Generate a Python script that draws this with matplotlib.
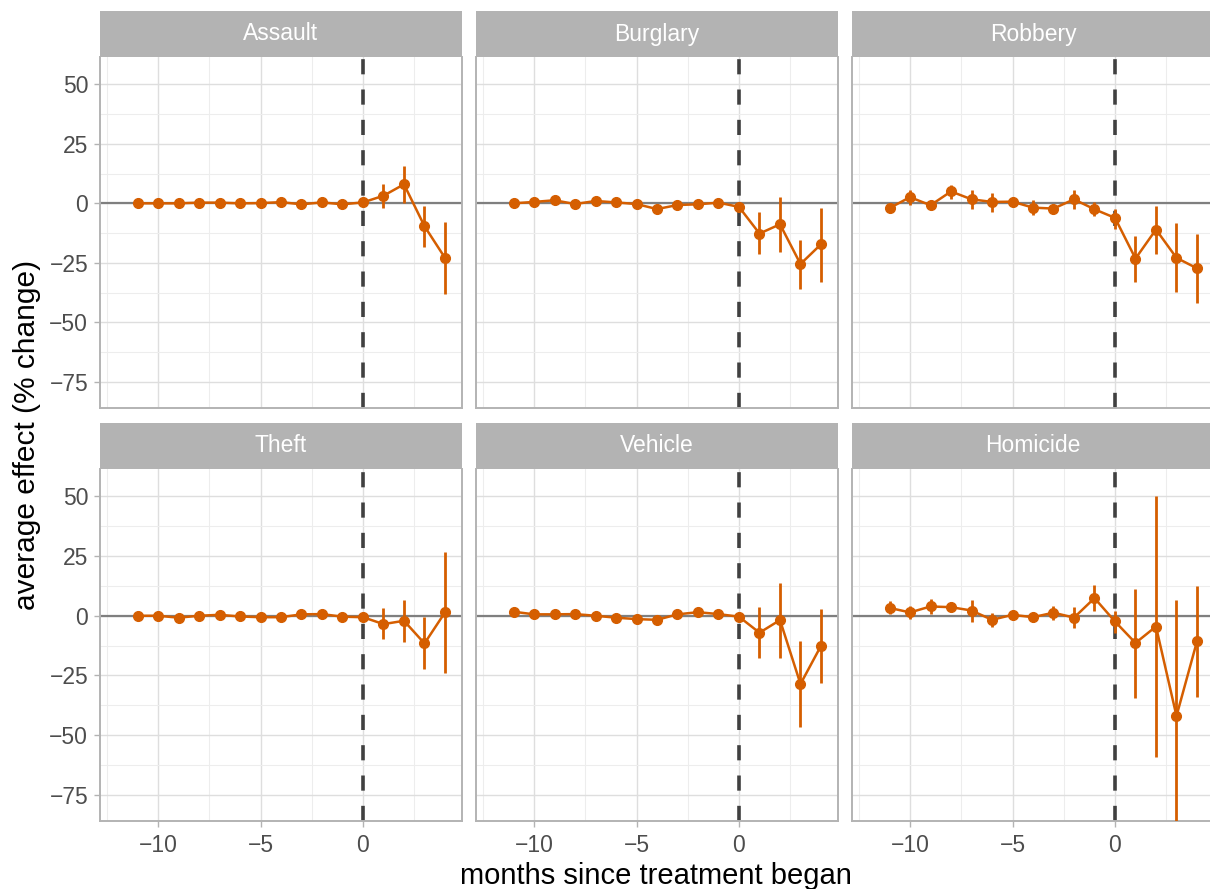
import matplotlib
matplotlib.use("Agg")
import matplotlib.pyplot as plt
import numpy as np
from matplotlib.ticker import MultipleLocator

plt.rcParams['font.family'] = ['Liberation Sans', 'DejaVu Sans']

months = list(range(-11, 5))
crimes = ["Assault", "Burglary", "Robbery", "Theft", "Vehicle", "Homicide"]

assault_est = [0.0, 0.0, 0.0, 0.3, 0.3, 0.0, 0.1, 0.5, -0.4, 0.4, -0.4, 0.4, 3.2, 8.0, -9.6, -22.9]
assault_lo = [-0.8, -0.8, -0.8, -0.5, -0.6, -0.8, -0.7, -0.4, -1.2, -0.5, -1.2, -0.5, -1.8, 0.1, -18.3, -38.0]
assault_hi = [0.8, 0.8, 0.8, 1.1, 1.2, 0.8, 0.9, 1.4, 0.4, 1.3, 0.4, 1.3, 8.2, 15.5, -1.3, -7.8]

burglary_est = [0.0, 0.6, 1.3, -0.3, 1.0, 0.4, -0.3, -2.4, -0.7, -0.4, 0.3, -1.5, -12.7, -8.8, -25.5, -17.2]
burglary_lo = [-1.0, -0.4, 0.3, -1.3, 0.0, -0.6, -1.3, -3.4, -1.7, -1.4, -0.7, -2.5, -21.3, -20.5, -36.1, -32.9]
burglary_hi = [1.0, 1.6, 2.3, 0.7, 2.0, 1.4, 0.7, -1.4, 0.3, 0.6, 1.3, -0.5, -3.6, 2.6, -15.2, -2.0]

robbery_est = [-2.0, 2.6, -0.8, 5.0, 1.7, 0.6, 0.7, -1.8, -2.2, 1.7, -2.5, -6.1, -23.2, -11.0, -22.9, -27.3]
robbery_lo = [-3.2, -0.8, -2.2, 2.0, -2.5, -3.6, -0.6, -5.0, -3.8, -2.5, -5.4, -10.6, -33.0, -21.3, -37.4, -41.8]
robbery_hi = [-0.8, 5.4, 0.6, 7.9, 5.4, 4.5, 2.0, 1.5, -0.6, 5.4, 0.6, -2.5, -13.8, -1.3, -8.1, -13.0]

theft_est = [0.0, 0.0, -0.8, 0.0, 0.4, -0.3, -0.6, -0.6, 0.6, 0.7, -0.4, -0.6, -3.5, -2.1, -11.6, 1.4]
theft_lo = [-1.0, -1.0, -1.8, -1.0, -0.6, -1.3, -1.6, -1.6, -0.4, -0.3, -1.4, -1.6, -9.6, -11.0, -22.5, -24.1]
theft_hi = [1.0, 1.0, 0.2, 1.0, 1.4, 0.7, 0.4, 0.4, 1.6, 1.7, 0.6, 0.4, 3.1, 6.8, -0.4, 26.8]

vehicle_est = [1.7, 0.6, 0.6, 0.7, 0.0, -0.8, -1.4, -1.7, 0.6, 1.5, 0.7, -0.4, -7.1, -1.8, -28.6, -12.6]
vehicle_lo = [0.7, -0.4, -0.4, -0.3, -1.0, -1.8, -2.4, -2.7, -0.4, 0.5, -0.3, -1.4, -17.9, -17.9, -46.7, -28.0]
vehicle_hi = [2.7, 1.6, 1.6, 1.7, 1.0, 0.2, -0.4, -0.7, 1.6, 2.5, 1.7, 0.6, 3.5, 13.9, -10.5, 2.8]

homicide_est = [3.3, 1.4, 3.9, 3.6, 2.2, -1.7, 0.4, -0.6, 1.3, -0.8, 7.4, -2.4, -11.4, -4.5, -42.0, -10.7]
homicide_lo = [0.6, -1.4, 0.6, 1.5, -2.6, -4.7, -1.1, -2.5, -1.7, -5.0, 1.8, -7.3, -34.4, -59.1, -90.0, -34.0]
homicide_hi = [6.1, 4.2, 7.1, 5.7, 6.8, 1.1, 2.0, 1.1, 4.3, 3.6, 13.0, 2.2, 11.3, 50.3, 6.4, 12.3]

series = {
    "Assault": (assault_est, assault_lo, assault_hi),
    "Burglary": (burglary_est, burglary_lo, burglary_hi),
    "Robbery": (robbery_est, robbery_lo, robbery_hi),
    "Theft": (theft_est, theft_lo, theft_hi),
    "Vehicle": (vehicle_est, vehicle_lo, vehicle_hi),
    "Homicide": (homicide_est, homicide_lo, homicide_hi),
}

W, H = 1210, 889
fig = plt.figure(figsize=(W / 100, H / 100), dpi=100)

col_left = [100, 476, 852]
col_w = 362
rows = [(11, 57, 408), (423, 469, 821)]  # strip top, axes top, axes bottom

ORANGE = "#D55E00"
BORDER = "#B3B3B3"

for i, crime in enumerate(crimes):
    r, c = divmod(i, 3)
    st, at, ab = rows[r]
    x0 = col_left[c]
    ax = fig.add_axes([x0 / W, 1 - ab / H, col_w / W, (ab - at) / H])
    sax = fig.add_axes([x0 / W, 1 - at / H, col_w / W, (at - st) / H])
    sax.set_facecolor(BORDER)
    sax.set_xticks([]); sax.set_yticks([])
    for s in sax.spines.values():
        s.set_visible(False)
    sax.text(0.5, 0.5, crime, color="white", fontsize=16.5, ha="center", va="center",
             transform=sax.transAxes)

    est, lo, hi = series[crime]
    ax.set_xlim(-12.83, 4.83)
    ax.set_ylim(-86, 61.5)
    ax.xaxis.set_major_locator(MultipleLocator(5))
    ax.xaxis.set_minor_locator(MultipleLocator(2.5))
    ax.yaxis.set_major_locator(MultipleLocator(25))
    ax.yaxis.set_minor_locator(MultipleLocator(12.5))
    ax.grid(which="major", color="#DEDEDE", lw=1.0, zorder=0)
    ax.grid(which="minor", color="#EDEDED", lw=0.8, zorder=0)
    ax.set_axisbelow(True)

    ax.axhline(0, color="#7F7F7F", lw=1.6, zorder=1)
    ax.axvline(0, color="#404040", lw=2.6, dashes=(4.2, 4.2), zorder=2)
    ax.vlines(months, lo, hi, color=ORANGE, lw=2.0, zorder=3)
    ax.plot(months, est, color=ORANGE, lw=1.8, zorder=4)
    ax.plot(months, est, "o", color=ORANGE, ms=7.0, zorder=5)

    for side in ["left", "right", "bottom"]:
        ax.spines[side].set_color(BORDER)
        ax.spines[side].set_linewidth(1.4)
    ax.spines["top"].set_visible(False)
    ax.tick_params(which="major", length=4.5, width=1.0, color=BORDER,
                   labelsize=16.5, labelcolor="#4D4D4D")
    ax.tick_params(which="minor", length=0)
    ax.tick_params(axis="y", pad=4)
    ax.tick_params(axis="x", pad=5)
    if c != 0:
        ax.tick_params(axis="y", which="both", left=False, labelleft=False)
    if r != 1:
        ax.tick_params(axis="x", which="both", bottom=False, labelbottom=False)

fig.text(27 / W, 1 - 435 / H, "average effect (% change)", rotation=90,
         ha="center", va="center", fontsize=21.5)
fig.text(656 / W, 1 - 876 / H, "months since treatment began",
         ha="center", va="center", fontsize=21)

fig.savefig("out.png", dpi=100)
